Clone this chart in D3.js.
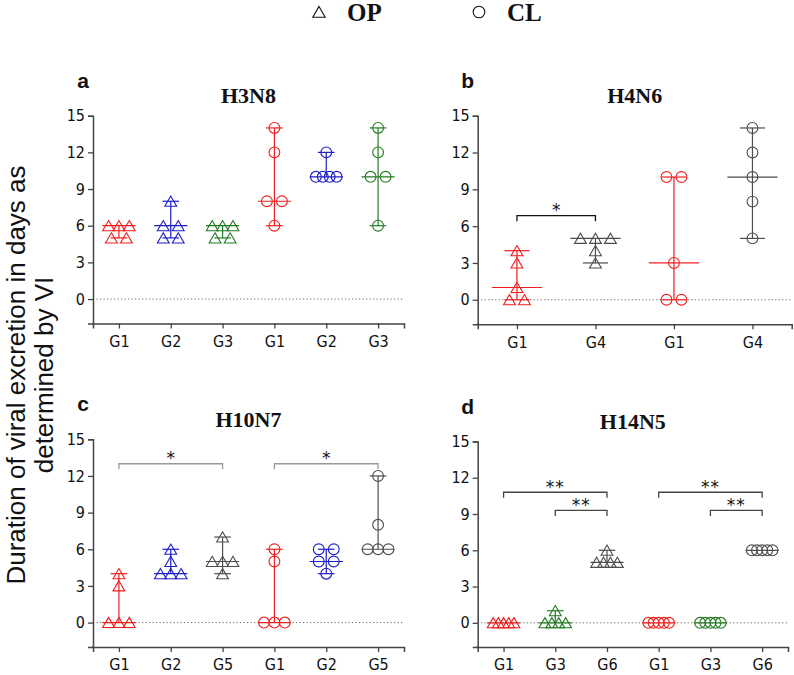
<!DOCTYPE html>
<html>
<head>
<meta charset="utf-8">
<script src="https://cdn.jsdelivr.net/npm/d3@7"></script>
<style>
  html, body { margin: 0; padding: 0; background: #fff; }
  svg { display: block; }
</style>
</head>
<body>
<div id="chart"></div>
<script>
// ---------------- DATA ----------------
const panelTitles = ["H3N8", "H4N6", "H10N7", "H14N5"];
const panelLetters = ["a", "b", "c", "d"];

const categoriesA = ["G1", "G2", "G3", "G1", "G2", "G3"];
const categoriesB = ["G1", "G4", "G1", "G4"];
const categoriesC = ["G1", "G2", "G5", "G1", "G2", "G5"];
const categoriesD = ["G1", "G3", "G6", "G1", "G3", "G6"];

const sampleTypesA = ["OP", "OP", "OP", "CL", "CL", "CL"];
const sampleTypesB = ["OP", "OP", "CL", "CL"];
const sampleTypesC = ["OP", "OP", "OP", "CL", "CL", "CL"];
const sampleTypesD = ["OP", "OP", "OP", "CL", "CL", "CL"];

// duration of viral excretion (days) per animal
const valuesA = [[6, 6, 6, 5, 5], [8, 6, 6, 5, 5], [6, 6, 6, 5, 5], [14, 12, 8, 8, 6], [12, 10, 10, 10, 10], [14, 12, 10, 10, 6]];
const valuesB = [[4, 3, 1, 0, 0], [5, 5, 5, 4, 3], [10, 10, 3, 0, 0], [14, 12, 10, 8, 5]];
const valuesC = [[4, 3, 0, 0, 0], [6, 5, 4, 4, 4], [7, 5, 5, 5, 4], [6, 5, 0, 0, 0], [6, 6, 5, 5, 4], [12, 8, 6, 6, 6]];
const valuesD = [[0, 0, 0, 0, 0], [1, 0, 0, 0, 0], [6, 5, 5, 5, 5], [0, 0, 0, 0, 0], [0, 0, 0, 0, 0], [6, 6, 6, 6, 6]];

// significance brackets: category index from/to, height (days), label
const bracketsA = [];
const bracketsB = [{ from: 0, to: 1, y: 6.85, label: "*" }];
const bracketsC = [{ from: 0, to: 2, y: 13.0, label: "*" }, { from: 3, to: 5, y: 13.0, label: "*" }];
const bracketsD = [
  { from: 0, to: 2, y: 10.8, label: "**" }, { from: 1, to: 2, y: 9.3, label: "**" },
  { from: 3, to: 5, y: 10.8, label: "**" }, { from: 4, to: 5, y: 9.3, label: "**" }
];

const yTicks = [0, 3, 6, 9, 12, 15];
const yDomain = [-2, 15];
const legendLabels = ["OP", "CL"];
const yAxisLabel = ["Duration of viral excretion in days as", "determined by VI"];

// ---------------- STYLE / LAYOUT ----------------
const groupColor = { G1: "#f01e1e", G2: "#1c1cc8", G3: "#237a23", G4: "#4d4d4d", G5: "#4d4d4d", G6: "#4d4d4d" };
const W = 794, H = 675;
const tickFont = "'DejaVu Sans Condensed', 'DejaVu Sans', Verdana, sans-serif";

const panels = [
  { cats: categoriesA, types: sampleTypesA, vals: valuesA, br: bracketsA, x0: 93, x1: 404, yTop: 115.7, yBot: 323.5, brColor: "#222" },
  { cats: categoriesB, types: sampleTypesB, vals: valuesB, br: bracketsB, x0: 477.7, x1: 791.7, yTop: 115.7, yBot: 324.3, brColor: "#111" },
  { cats: categoriesC, types: sampleTypesC, vals: valuesC, br: bracketsC, x0: 93, x1: 404, yTop: 439.3, yBot: 647, brColor: "#9a9a9a" },
  { cats: categoriesD, types: sampleTypesD, vals: valuesD, br: bracketsD, x0: 477.7, x1: 788, yTop: 441.5, yBot: 647, brColor: "#444" }
];

const svg = d3.select("#chart").append("svg").attr("width", W).attr("height", H)
  .attr("viewBox", `0 0 ${W} ${H}`);

const triPath = "M0,-5.2L5.9,5L-5.9,5Z";

function marker(g, type, color) {
  if (type === "OP") {
    return g.append("path").attr("d", triPath).attr("fill", "none").attr("stroke", color).attr("stroke-width", 1.1);
  }
  return g.append("circle").attr("r", 5.4).attr("fill", "none").attr("stroke", color).attr("stroke-width", 1.1);
}

// ---------------- LEGEND ----------------
const legend = svg.append("g");
[[319, 12, "OP", 347], [479, 12, "CL", 507]].forEach(([mx, my, lab, tx], i) => {
  const g = legend.append("g").attr("transform", `translate(${mx},${my})`);
  if (i === 0) g.append("path").attr("d", "M0,-5.6L6.2,5.2L-6.2,5.2Z").attr("fill", "none").attr("stroke", "#111").attr("stroke-width", 1.1);
  else g.append("circle").attr("r", 5.8).attr("fill", "none").attr("stroke", "#111").attr("stroke-width", 1.1);
  legend.append("text").attr("x", tx).attr("y", 21).text(legendLabels[i])
    .attr("font-family", "'Liberation Serif', 'Times New Roman', serif").attr("font-weight", "bold")
    .attr("font-size", 25).attr("fill", "#111");
});

// ---------------- Y AXIS LABEL ----------------
const ylab = svg.append("text").attr("transform", "translate(0,375) rotate(-90)")
  .attr("font-family", "'Liberation Sans', Arial, sans-serif").attr("font-size", 26)
  .attr("fill", "#111").attr("text-anchor", "middle");
ylab.append("tspan").attr("x", 0).attr("y", 25).text(yAxisLabel[0]);
ylab.append("tspan").attr("x", 0).attr("y", 53).text(yAxisLabel[1]);

// ---------------- PANELS ----------------
panels.forEach((p, pi) => {
  const g = svg.append("g");
  const idx = p.cats.map((c, i) => i);
  const x = d3.scalePoint().domain(idx).range([p.x0, p.x1]).padding(0.5);
  const step = x.step();
  const y = d3.scaleLinear().domain(yDomain).range([p.yBot, p.yTop]);

  // zero dotted line
  g.append("line").attr("x1", p.x0).attr("x2", p.x1).attr("y1", y(0)).attr("y2", y(0))
    .attr("stroke", "#666").attr("stroke-width", 1).attr("stroke-dasharray", "1.2,2.3");

  // axes
  const yAxis = d3.axisLeft(y).tickValues(yTicks).tickSizeOuter(0).tickSize(5).tickPadding(3);
  const ya = g.append("g").attr("transform", `translate(${p.x0},0)`).call(yAxis);
  const xAxis = d3.axisBottom(x).tickFormat(i => p.cats[i]).tickSizeOuter(0).tickSize(5).tickPadding(7);
  const xa = g.append("g").attr("transform", `translate(0,${p.yBot})`).call(xAxis);
  [ya, xa].forEach(a => {
    a.select(".domain").attr("stroke", "#444").attr("stroke-width", 1.5);
    a.selectAll(".tick line").attr("stroke", "#444").attr("stroke-width", 1.3);
    a.selectAll(".tick text").attr("font-family", tickFont).attr("font-size", 16).attr("fill", "#111");
  });
  // make the axis corner meet
  g.append("line").attr("x1", p.x0 - 0.75).attr("x2", p.x0 + 1).attr("y1", p.yBot).attr("y2", p.yBot)
    .attr("stroke", "#444").attr("stroke-width", 1.5);

  // title + letter
  g.append("text").attr("x", (p.x0 + p.x1) / 2).attr("y", p.yTop - 12.5).attr("text-anchor", "middle")
    .attr("font-family", "'Liberation Serif', 'Times New Roman', serif").attr("font-weight", "bold")
    .attr("font-size", 22).attr("fill", "#111").text(panelTitles[pi]);
  g.append("text").attr("x", p.x0 - 10).attr("y", p.yTop - 28).attr("text-anchor", "middle")
    .attr("font-family", "'Liberation Sans', Arial, sans-serif").attr("font-weight", "bold")
    .attr("font-size", 21).attr("fill", "#111").text(panelLetters[pi]);

  // groups
  p.vals.forEach((vals, ci) => {
    const color = groupColor[p.cats[ci]];
    const cx = x(ci);
    const med = d3.median(vals);
    const [mn, mx] = d3.extent(vals);
    const mHalf = 0.32 * step, cHalf = 0.16 * step;
    const eg = g.append("g").attr("stroke", color).attr("stroke-width", 1.2).attr("fill", "none");
    eg.append("line").attr("x1", cx).attr("x2", cx).attr("y1", y(mn)).attr("y2", y(mx));
    eg.append("line").attr("x1", cx - mHalf).attr("x2", cx + mHalf).attr("y1", y(med)).attr("y2", y(med));
    if (mn !== med) eg.append("line").attr("x1", cx - cHalf).attr("x2", cx + cHalf).attr("y1", y(mn)).attr("y2", y(mn));
    if (mx !== med) eg.append("line").attr("x1", cx - cHalf).attr("x2", cx + cHalf).attr("y1", y(mx)).attr("y2", y(mx));

    // symmetric spread of equal values
    const rows = d3.group(vals, v => v);
    rows.forEach((arr, v) => {
      const n = arr.length;
      const sp = n > 1 ? Math.min(15, 0.4 * step / (n - 1)) : 0;
      arr.forEach((_, k) => {
        const off = (k - (n - 1) / 2) * sp;
        const mg = g.append("g").attr("transform", `translate(${cx + off},${y(v)})`);
        marker(mg, p.types[ci], color);
      });
    });
  });

  // brackets
  p.br.forEach(b => {
    const xa1 = x(b.from), xa2 = x(b.to), yy = y(b.y);
    g.append("path").attr("d", `M${xa1},${yy + 5.5}V${yy}H${xa2}V${yy + 5.5}`)
      .attr("fill", "none").attr("stroke", p.brColor).attr("stroke-width", 1.3);
    g.append("text").attr("x", (xa1 + xa2) / 2).attr("y", yy + 0.5).attr("text-anchor", "middle")
      .attr("font-family", "'DejaVu Sans', sans-serif").attr("font-size", 17).attr("fill", "#111")
      .attr("letter-spacing", b.label.length > 1 ? 1 : 0).text(b.label);
  });
});
</script>
</body>
</html>
